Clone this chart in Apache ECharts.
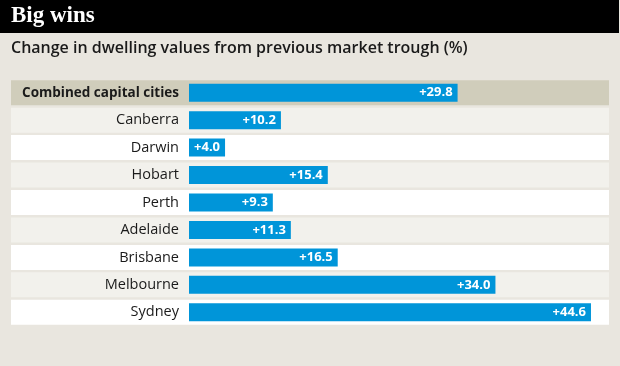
<!DOCTYPE html>
<html><head><meta charset="utf-8">
<script src="https://cdn.jsdelivr.net/npm/echarts@6/dist/echarts.min.js"></script>
<style>html,body{margin:0;padding:0;background:#E9E6DF}#c{width:620px;height:366px}</style>
</head><body><div id="c"></div>
<script>
var categories = ['Combined capital cities','Canberra','Darwin','Hobart','Perth','Adelaide','Brisbane','Melbourne','Sydney'];
var values = [29.8, 10.2, 4.0, 15.4, 9.3, 11.3, 16.5, 34.0, 44.6];
var rowColors = ['#D0CDBB','#F2F1EC','#FFFFFF','#F2F1EC','#FFFFFF','#F2F1EC','#FFFFFF','#F2F1EC','#FFFFFF'];
var titleText = 'Big wins';
var subtitleText = 'Change in dwelling values from previous market trough (%)';

var chart = echarts.init(document.getElementById('c'), null, {renderer:'canvas'});
var gridTop = 79, gridBottom = 366 - 326;
chart.setOption({
  backgroundColor: '#E9E6DF',
  animation: false,
  graphic: [
    {type:'rect', shape:{x:0,y:0,width:619,height:33}, style:{fill:'#000'}, z:0},
    {type:'text', left:11, top:5, style:{text:titleText, fill:'#fff', font:'bold 23px "Liberation Serif", "DejaVu Serif", serif'}},
    {type:'text', left:11, top:40, style:{text:subtitleText, fill:'#1a1a1a', font:'600 16px "Open Sans", "Noto Sans", sans-serif'}}
  ],
  grid: [
    {left:11, right:11, top:gridTop, bottom:gridBottom},
    {left:189, right:11, top:gridTop, bottom:gridBottom}
  ],
  xAxis: [
    {gridIndex:0, type:'value', min:0, max:1, show:false},
    {gridIndex:1, type:'value', min:0, max:46.6, show:false}
  ],
  yAxis: [
    {gridIndex:0, type:'category', data:categories, inverse:true, show:false},
    {gridIndex:1, type:'category', data:categories, inverse:true, z:10,
     axisLine:{show:false}, axisTick:{show:false}, splitLine:{show:false},
     axisLabel:{margin:10, color:'#1a1a1a', fontSize:14.5, fontFamily:'"Open Sans", "Noto Sans", sans-serif',
       formatter:function(v,i){return i===0?'{b|'+v+'}':v;},
       rich:{b:{fontWeight:'bold', fontSize:13.5, color:'#1a1a1a', fontFamily:'"Open Sans", "Noto Sans", sans-serif'}}}}
  ],
  series: [
    {type:'bar', xAxisIndex:0, yAxisIndex:0, barWidth:25, z:1, silent:true,
     data: categories.map(function(c,i){return {value:1, itemStyle:{color:rowColors[i]}};})},
    {type:'bar', xAxisIndex:1, yAxisIndex:1, barWidth:18, z:3,
     itemStyle:{color:'#0095D9'},
     label:{show:true, position:'insideRight', distance:5, color:'#fff', fontWeight:'bold', fontSize:13,
       fontFamily:'"Open Sans", "Noto Sans", sans-serif',
       formatter:function(p){return '+'+p.value.toFixed(1);}},
     data: values}
  ]
});
</script></body></html>
